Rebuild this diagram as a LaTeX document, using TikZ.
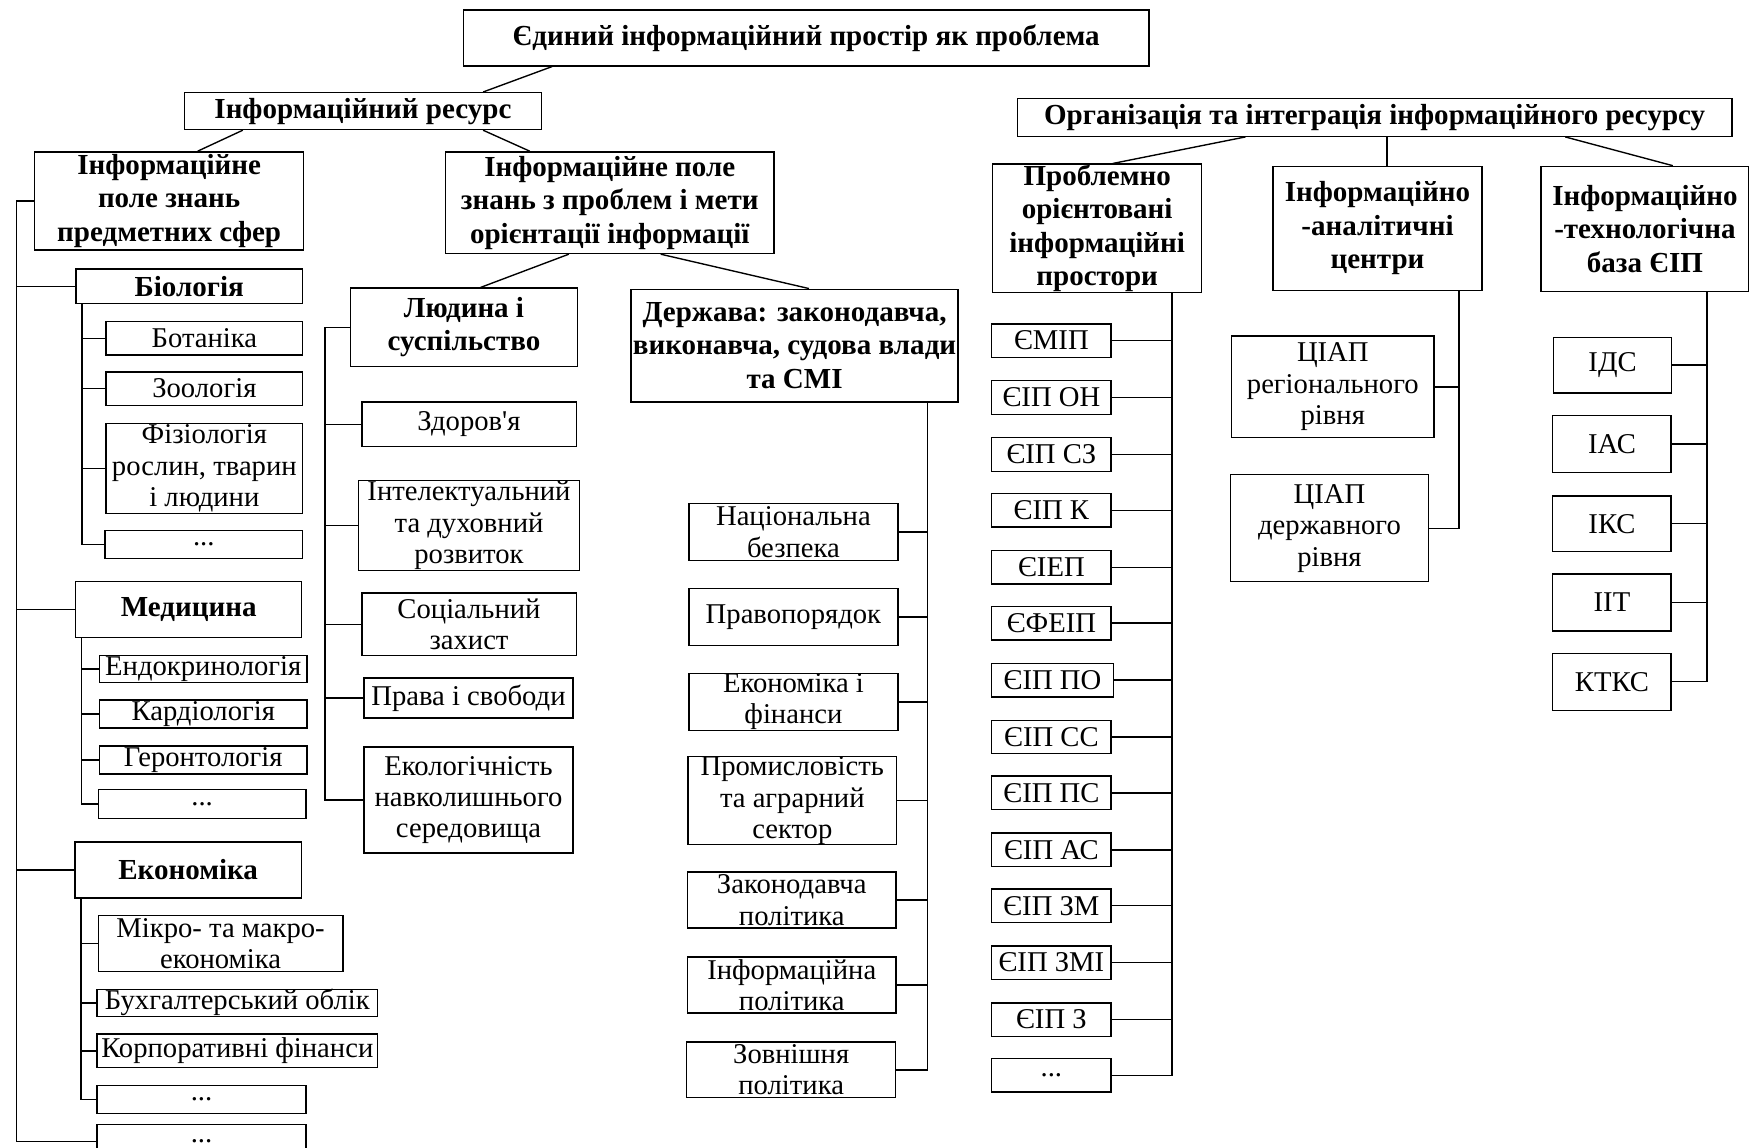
\documentclass[tikz,border=0pt]{standalone}
\usepackage{fontspec}
\setmainfont{Liberation Serif}
\tikzset{
    headbox/.style={draw,line width=0.7pt,inner sep=0pt,align=center,
        font=\fontsize{14.8}{17}\selectfont\bfseries},
    itembox/.style={draw,line width=0.7pt,inner sep=0pt,align=center,
        font=\fontsize{14.6}{16}\selectfont},
    link/.style={draw,line width=0.7pt}
}
\begin{document}
\begin{tikzpicture}
    \useasboundingbox (0,0) rectangle (31.36,-20.56);
    \clip (0,0) rectangle (31.36,-20.56);

    % upper levels
    \node[headbox,minimum width=12.28cm,minimum height=1.00cm] (space) at (14.44,-0.68)
        {Єдиний інформаційний простір як проблема};
    \node[headbox,minimum width=6.40cm,minimum height=0.66cm] (resource) at (6.50,-1.99)
        {Інформаційний ресурс};
    \node[headbox,minimum width=12.80cm,minimum height=0.68cm] (organize) at (24.62,-2.10)
        {Організація та інтеграція інформаційного ресурсу};
    \node[headbox,minimum width=4.82cm,minimum height=1.76cm] (subject) at (3.03,-3.60)
        {Інформаційне\\поле знань\\предметних сфер};
    \node[headbox,minimum width=5.88cm,minimum height=1.82cm] (problem) at (10.92,-3.63)
        {Інформаційне поле\\знань з проблем і мети\\орієнтації інформації};

    \draw[link] ([xshift=1.60cm]space.south west) -- ([xshift=-1.06cm]resource.north east);
    \draw[link] ([xshift=1.06cm]resource.south west) -- ([xshift=0.51cm]subject.north);
    \draw[link] ([xshift=-1.06cm]resource.south east) -- ([xshift=1.52cm]problem.north west);

    % subject fields
    \node[headbox,minimum width=4.06cm,minimum height=0.62cm] (biology) at (3.39,-5.13) {Біологія};
    \node[itembox,minimum width=3.52cm,minimum height=0.60cm] (botany) at (3.66,-6.06) {Ботаніка};
    \node[itembox,minimum width=3.52cm,minimum height=0.60cm] (zoology) at (3.66,-6.96) {Зоологія};
    \node[itembox,minimum width=3.52cm,minimum height=1.62cm] (physiology) at (3.66,-8.39)
        {Фізіологія\\рослин, тварин\\і людини};
    \node[itembox,minimum width=3.54cm,minimum height=0.50cm] (biodots) at (3.65,-9.75) {...};

    \node[headbox,minimum width=4.05cm,minimum height=1.00cm] (medicine) at (3.38,-10.92) {Медицина};
    \node[itembox,minimum width=3.72cm,minimum height=0.48cm] (endo) at (3.64,-11.98) {Ендокринологія};
    \node[itembox,minimum width=3.72cm,minimum height=0.50cm] (cardio) at (3.64,-12.79) {Кардіологія};
    \node[itembox,minimum width=3.72cm,minimum height=0.50cm] (geronto) at (3.64,-13.61) {Геронтологія};
    \node[itembox,minimum width=3.72cm,minimum height=0.52cm] (meddots) at (3.62,-14.40) {...};

    \node[headbox,minimum width=4.06cm,minimum height=1.00cm] (economy) at (3.37,-15.58) {Економіка};
    \node[itembox,minimum width=4.38cm,minimum height=1.00cm] (macro) at (3.95,-16.90)
        {Мікро- та макро-\\економіка};
    \node[itembox,minimum width=5.02cm,minimum height=0.48cm] (account) at (4.25,-17.96) {Бухгалтерський облік};
    \node[itembox,minimum width=5.02cm,minimum height=0.60cm] (finance) at (4.25,-18.82) {Корпоративні фінанси};
    \node[itembox,minimum width=3.74cm,minimum height=0.50cm] (ecodots) at (3.61,-19.69) {...};
    \node[itembox,minimum width=3.74cm,minimum height=0.60cm] (alldots) at (3.61,-20.44) {...};

    \coordinate (subjspine) at (0.29,-3.60);
    \draw[link] (subjspine) -- (subject.west);
    \draw[link] (subjspine) |- (biology.west);
    \draw[link] (subjspine) |- (medicine.west);
    \draw[link] (subjspine) |- (economy.west);
    \draw[link] (subjspine) |- (alldots.west);

    \draw[link] ([xshift=0.12cm]biology.south west) |- (botany.west);
    \draw[link] ([xshift=0.12cm]biology.south west) |- (zoology.west);
    \draw[link] ([xshift=0.12cm]biology.south west) |- (physiology.west);
    \draw[link] ([xshift=0.12cm]biology.south west) |- (biodots.west);

    \draw[link] ([xshift=0.12cm]medicine.south west) |- (endo.west);
    \draw[link] ([xshift=0.12cm]medicine.south west) |- (cardio.west);
    \draw[link] ([xshift=0.12cm]medicine.south west) |- (geronto.west);
    \draw[link] ([xshift=0.12cm]medicine.south west) |- (meddots.west);

    \draw[link] ([xshift=0.12cm]economy.south west) |- (macro.west);
    \draw[link] ([xshift=0.12cm]economy.south west) |- (account.west);
    \draw[link] ([xshift=0.12cm]economy.south west) |- (finance.west);
    \draw[link] ([xshift=0.12cm]economy.south west) |- (ecodots.west);

    % problems and goals
    \node[headbox,minimum width=4.06cm,minimum height=1.40cm] (society) at (8.31,-5.86)
        {Людина і\\суспільство};
    \node[headbox,minimum width=5.86cm,minimum height=2.02cm] (state) at (14.23,-6.19)
        {Держава: законодавча,\\виконавча, судова влади\\та СМІ};
    \draw[link] ([xshift=2.22cm]problem.south west) -- ([xshift=2.34cm]society.north west);
    \draw[link] ([xshift=-2.04cm]problem.south east) -- ([xshift=3.20cm]state.north west);

    \node[itembox,minimum width=3.84cm,minimum height=0.80cm] (health) at (8.40,-7.60) {Здоров\textquotesingle я};
    \node[itembox,minimum width=3.95cm,minimum height=1.62cm] (intellect) at (8.40,-9.41)
        {Інтелектуальний\\та духовний\\розвиток};
    \node[itembox,minimum width=3.84cm,minimum height=1.12cm] (social) at (8.40,-11.18)
        {Соціальний\\захист};
    \node[itembox,minimum width=3.74cm,minimum height=0.72cm] (rights) at (8.39,-12.50) {Права і свободи};
    \node[itembox,minimum width=3.74cm,minimum height=1.90cm] (ecology) at (8.39,-14.33)
        {Екологічність\\навколишнього\\середовища};

    \coordinate (socspine) at (5.82,-5.86);
    \draw[link] (socspine) -- (society.west);
    \draw[link] (socspine) |- (health.west);
    \draw[link] (socspine) |- (intellect.west);
    \draw[link] (socspine) |- (social.west);
    \draw[link] (socspine) |- (rights.west);
    \draw[link] (socspine) |- (ecology.west);

    \node[itembox,minimum width=3.74cm,minimum height=1.02cm] (security) at (14.21,-9.53)
        {Національна\\безпека};
    \node[itembox,minimum width=3.74cm,minimum height=1.02cm] (order) at (14.21,-11.05) {Правопорядок};
    \node[itembox,minimum width=3.74cm,minimum height=1.02cm] (econfin) at (14.21,-12.57)
        {Економіка і\\фінанси};
    \node[itembox,minimum width=3.74cm,minimum height=1.52cm] (industry) at (14.19,-14.34)
        {Промисловість\\та аграрний\\сектор};
    \node[itembox,minimum width=3.74cm,minimum height=1.00cm] (lawpol) at (14.18,-16.12)
        {Законодавча\\політика};
    \node[itembox,minimum width=3.74cm,minimum height=1.00cm] (infopol) at (14.18,-17.64)
        {Інформаційна\\політика};
    \node[itembox,minimum width=3.74cm,minimum height=1.00cm] (foreign) at (14.17,-19.16)
        {Зовнішня\\політика};

    \draw[link] ([xshift=-0.56cm]state.south east) |- (security.east);
    \draw[link] ([xshift=-0.56cm]state.south east) |- (order.east);
    \draw[link] ([xshift=-0.56cm]state.south east) |- (econfin.east);
    \draw[link] ([xshift=-0.56cm]state.south east) |- (industry.east);
    \draw[link] ([xshift=-0.56cm]state.south east) |- (lawpol.east);
    \draw[link] ([xshift=-0.56cm]state.south east) |- (infopol.east);
    \draw[link] ([xshift=-0.56cm]state.south east) |- (foreign.east);

    % organisation of the resource
    \node[headbox,minimum width=3.74cm,minimum height=2.30cm] (spaces) at (19.65,-4.09)
        {Проблемно\\орієнтовані\\інформаційні\\простори};
    \node[headbox,minimum width=3.74cm,minimum height=2.22cm] (centres) at (24.67,-4.09)
        {Інформаційно\\-аналітичні\\центри};
    \node[headbox,minimum width=3.72cm,minimum height=2.24cm] (techbase) at (29.46,-4.10)
        {Інформаційно\\-технологічна\\база ЄІП};

    \draw[link] ([xshift=4.10cm]organize.south west) -- ([xshift=2.16cm]spaces.north west);
    \draw[link] ([xshift=0.17cm]centres.north) -- ([xshift=0.17cm]centres.north |- organize.south);
    \draw[link] ([xshift=-3.00cm]organize.south east) -- ([xshift=0.50cm]techbase.north);

    \node[itembox,minimum width=2.14cm,minimum height=0.60cm] (emip) at (18.83,-6.10) {ЄМІП};
    \node[itembox,minimum width=2.14cm,minimum height=0.60cm] (eipon) at (18.83,-7.12) {ЄІП ОН};
    \node[itembox,minimum width=2.14cm,minimum height=0.60cm] (eipsz) at (18.83,-8.14) {ЄІП СЗ};
    \node[itembox,minimum width=2.14cm,minimum height=0.60cm] (eipk) at (18.83,-9.14) {ЄІП К};
    \node[itembox,minimum width=2.14cm,minimum height=0.60cm] (eiep) at (18.83,-10.16) {ЄІЕП};
    \node[itembox,minimum width=2.14cm,minimum height=0.60cm] (efeip) at (18.83,-11.16) {ЄФЕІП};
    \node[itembox,minimum width=2.18cm,minimum height=0.60cm] (eippo) at (18.85,-12.18) {ЄІП ПО};
    \node[itembox,minimum width=2.14cm,minimum height=0.60cm] (eipss) at (18.83,-13.20) {ЄІП СС};
    \node[itembox,minimum width=2.14cm,minimum height=0.60cm] (eipps) at (18.83,-14.20) {ЄІП ПС};
    \node[itembox,minimum width=2.14cm,minimum height=0.60cm] (eipas) at (18.83,-15.22) {ЄІП АС};
    \node[itembox,minimum width=2.14cm,minimum height=0.60cm] (eipzm) at (18.83,-16.22) {ЄІП ЗМ};
    \node[itembox,minimum width=2.14cm,minimum height=0.60cm] (eipzmi) at (18.83,-17.24) {ЄІП ЗМІ};
    \node[itembox,minimum width=2.14cm,minimum height=0.60cm] (eipz) at (18.83,-18.26) {ЄІП З};
    \node[itembox,minimum width=2.14cm,minimum height=0.60cm] (eipdots) at (18.83,-19.26) {...};

    \draw[link] ([xshift=-0.54cm]spaces.south east) |- (emip.east);
    \draw[link] ([xshift=-0.54cm]spaces.south east) |- (eipon.east);
    \draw[link] ([xshift=-0.54cm]spaces.south east) |- (eipsz.east);
    \draw[link] ([xshift=-0.54cm]spaces.south east) |- (eipk.east);
    \draw[link] ([xshift=-0.54cm]spaces.south east) |- (eiep.east);
    \draw[link] ([xshift=-0.54cm]spaces.south east) |- (efeip.east);
    \draw[link] ([xshift=-0.54cm]spaces.south east) |- (eippo.east);
    \draw[link] ([xshift=-0.54cm]spaces.south east) |- (eipss.east);
    \draw[link] ([xshift=-0.54cm]spaces.south east) |- (eipps.east);
    \draw[link] ([xshift=-0.54cm]spaces.south east) |- (eipas.east);
    \draw[link] ([xshift=-0.54cm]spaces.south east) |- (eipzm.east);
    \draw[link] ([xshift=-0.54cm]spaces.south east) |- (eipzmi.east);
    \draw[link] ([xshift=-0.54cm]spaces.south east) |- (eipz.east);
    \draw[link] ([xshift=-0.54cm]spaces.south east) |- (eipdots.east);

    \node[itembox,minimum width=3.62cm,minimum height=1.82cm] (regional) at (23.87,-6.93)
        {ЦІАП\\регіонального\\рівня};
    \node[itembox,minimum width=3.54cm,minimum height=1.92cm] (national) at (23.81,-9.46)
        {ЦІАП\\державного\\рівня};
    \draw[link] ([xshift=-0.42cm]centres.south east) |- (regional.east);
    \draw[link] ([xshift=-0.42cm]centres.south east) |- (national.east);

    \node[itembox,minimum width=2.12cm,minimum height=1.00cm] (ids) at (28.88,-6.54) {ІДС};
    \node[itembox,minimum width=2.12cm,minimum height=1.02cm] (ias) at (28.87,-7.95) {ІАС};
    \node[itembox,minimum width=2.12cm,minimum height=1.00cm] (iks) at (28.87,-9.38) {ІКС};
    \node[itembox,minimum width=2.12cm,minimum height=1.02cm] (iit) at (28.87,-10.79) {ІІТ};
    \node[itembox,minimum width=2.12cm,minimum height=1.02cm] (ktks) at (28.87,-12.21) {КТКС};

    \draw[link] ([xshift=-0.76cm]techbase.south east) |- (ids.east);
    \draw[link] ([xshift=-0.76cm]techbase.south east) |- (ias.east);
    \draw[link] ([xshift=-0.76cm]techbase.south east) |- (iks.east);
    \draw[link] ([xshift=-0.76cm]techbase.south east) |- (iit.east);
    \draw[link] ([xshift=-0.76cm]techbase.south east) |- (ktks.east);
\end{tikzpicture}
\end{document}
